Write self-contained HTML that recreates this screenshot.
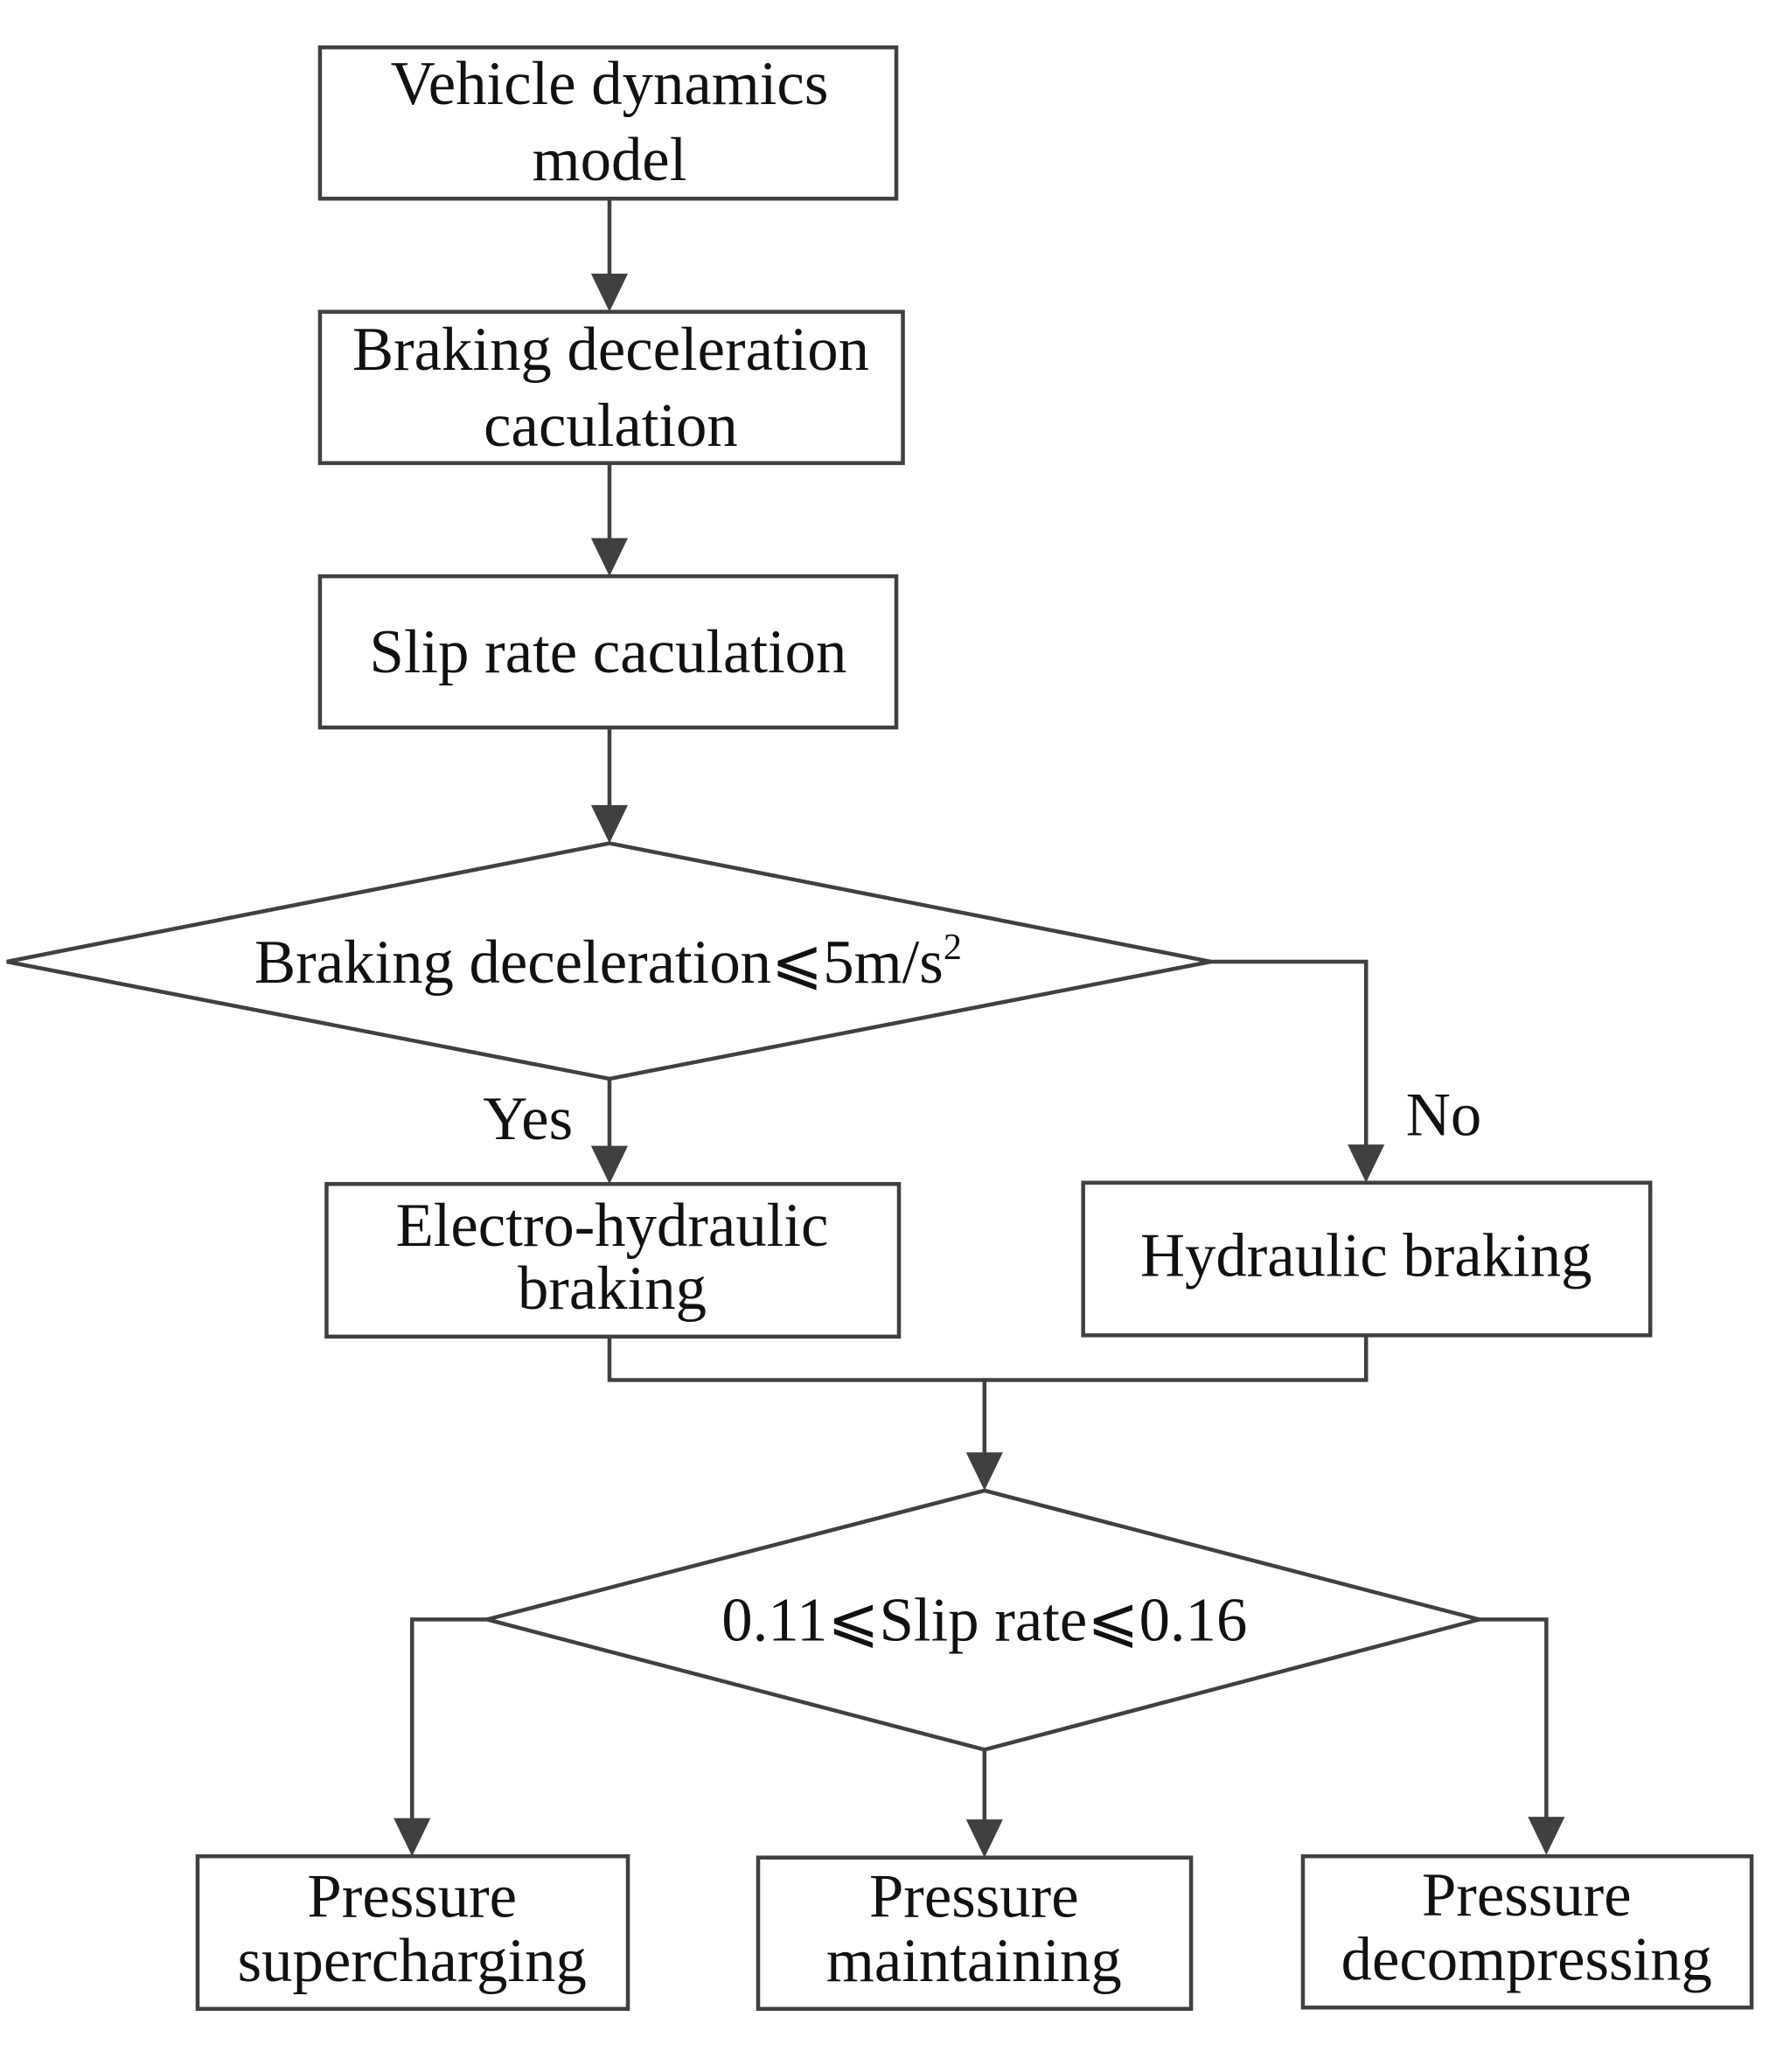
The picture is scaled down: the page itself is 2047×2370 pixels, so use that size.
<!DOCTYPE html>
<html><head><meta charset="utf-8"><style>
html,body{margin:0;padding:0;background:#fff;}
svg{display:block;}
text{font-family:"Liberation Serif","Noto Serif CJK SC",serif;font-size:47px;fill:#111;text-anchor:middle;}
</style></head><body>
<svg width="2047" height="2370" viewBox="0 0 1360 1575" xmlns="http://www.w3.org/2000/svg">
<g fill="none" stroke="#404040" stroke-width="3">
<rect x="243" y="36" width="438" height="115"/>
<rect x="243" y="237" width="443" height="115"/>
<rect x="243" y="438" width="438" height="115"/>
<polygon points="463,641 920,731 463,820 5,731"/>
<rect x="248" y="900" width="435" height="116"/>
<rect x="823" y="899" width="431" height="116"/>
<polygon points="748,1133 1124,1231 748,1330 370,1231"/>
<rect x="150" y="1411" width="327" height="116"/>
<rect x="576" y="1412" width="329" height="115"/>
<rect x="990" y="1411" width="341" height="115"/>
<line x1="463" y1="151" x2="463" y2="210"/>
<line x1="463" y1="352" x2="463" y2="411"/>
<line x1="463" y1="553" x2="463" y2="614"/>
<line x1="463" y1="820" x2="463" y2="873"/>
<polyline points="920,731 1038,731 1038,872"/>
<polyline points="463,1016 463,1049 1038,1049 1038,1015"/>
<line x1="748" y1="1049" x2="748" y2="1106"/>
<polyline points="370,1231 313,1231 313,1384"/>
<line x1="748" y1="1330" x2="748" y2="1385"/>
<polyline points="1124,1231 1175,1231 1175,1383"/>
</g>
<g fill="#404040">
<polygon points="449,208 477,208 463,237"/>
<polygon points="449,409 477,409 463,438"/>
<polygon points="449,612 477,612 463,641"/>
<polygon points="449,871 477,871 463,900"/>
<polygon points="1024,870 1052,870 1038,899"/>
<polygon points="734,1104 762,1104 748,1133"/>
<polygon points="299,1382 327,1382 313,1411"/>
<polygon points="734,1383 762,1383 748,1412"/>
<polygon points="1161,1381 1189,1381 1175,1410"/>
</g>
<text x="463" y="79">Vehicle dynamics</text>
<text x="463" y="137">model</text>
<text x="464" y="281">Braking deceleration</text>
<text x="464" y="339">caculation</text>
<text x="462" y="511">Slip rate caculation</text>
<text x="462" y="747">Braking deceleration⩽5m/s<tspan font-size="28" dy="-18">2</tspan></text>
<text x="401" y="866">Yes</text>
<text x="1097" y="863">No</text>
<text x="465" y="947">Electro-hydraulic</text>
<text x="465" y="995">braking</text>
<text x="1038" y="970">Hydraulic braking</text>
<text x="748" y="1247">0.11⩽Slip rate⩽0.16</text>
<text x="313" y="1457">Pressure</text>
<text x="313" y="1506">supercharging</text>
<text x="740" y="1457">Pressure</text>
<text x="740" y="1506">maintaining</text>
<text x="1160" y="1456">Pressure</text>
<text x="1160" y="1505">decompressing</text>
</svg>
</body></html>
